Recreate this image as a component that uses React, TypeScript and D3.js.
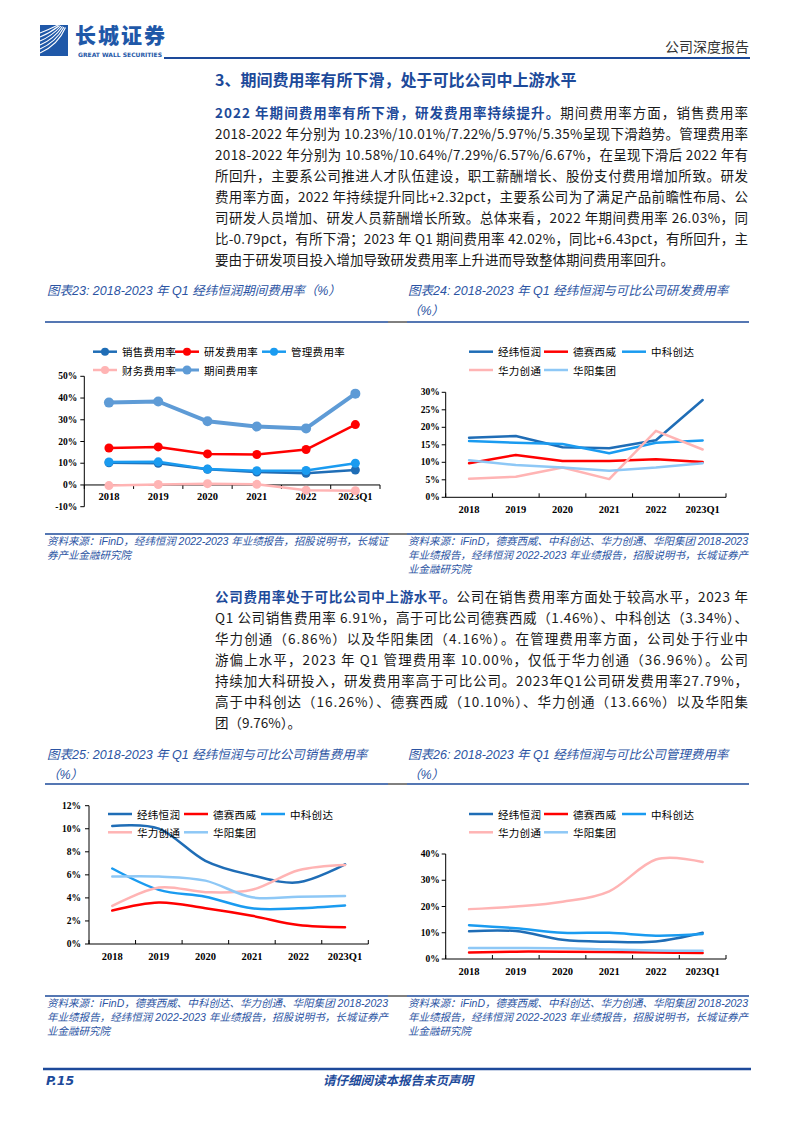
import React from 'react';
import * as d3 from 'd3';

// ---------------- DATA ----------------
const years = ['2018', '2019', '2020', '2021', '2022', '2023Q1'];

// 图表23: 经纬恒润期间费用率 (%)
const salesRate = [10.23, 10.01, 7.22, 5.97, 5.35, 6.91];
const rdRate = [17.0, 17.5, 14.3, 14.0, 16.3, 27.79];
const adminRate = [10.58, 10.64, 7.29, 6.57, 6.67, 10.0];
const financeRate = [-0.3, 0.2, 0.6, 0.3, -2.4, -2.68];
const periodRate = [37.9, 38.4, 29.3, 26.9, 26.03, 42.02];
const ticks23 = [-10, 0, 10, 20, 30, 40, 50];

// 图表24: 研发费用率对比 (%)
const rdDesay = [9.7, 12.1, 10.4, 10.4, 10.9, 10.1];
const rdThundersoft = [16.1, 15.6, 15.2, 12.6, 15.6, 16.26];
const rdHwa = [5.3, 5.9, 8.5, 5.2, 19.0, 13.66];
const rdHuayang = [10.6, 9.2, 8.5, 7.6, 8.5, 9.76];
const ticks24 = [0, 5, 10, 15, 20, 25, 30];

// 图表25: 销售费用率对比 (%)
const salesDesay = [2.9, 3.6, 3.1, 2.45, 1.65, 1.46];
const salesThundersoft = [6.55, 4.7, 4.1, 3.1, 3.1, 3.34];
const salesHwa = [3.3, 4.9, 4.5, 4.7, 6.4, 6.86];
const salesHuayang = [5.85, 5.85, 5.5, 4.05, 4.1, 4.16];
const ticks25 = [0, 2, 4, 6, 8, 10, 12];

// 图表26: 管理费用率对比 (%)
const adminDesay = [2.5, 2.8, 2.8, 2.7, 2.5, 2.3];
const adminThundersoft = [12.9, 11.7, 10.0, 10.0, 8.9, 9.5];
const adminHwa = [19.0, 20.0, 21.8, 25.8, 37.9, 36.96];
const adminHuayang = [4.2, 4.2, 4.1, 3.6, 3.2, 3.1];
const ticks26 = [0, 10, 20, 30, 40];

const seriesNames23 = ['销售费用率', '研发费用率', '管理费用率', '财务费用率', '期间费用率'];
const companies = ['经纬恒润', '德赛西威', '中科创达', '华力创通', '华阳集团'];

// ---------------- STYLE ----------------
const CJK = "'Noto Sans CJK SC', 'Noto Sans', sans-serif";
const ITAL = "'Liberation Sans', 'Noto Sans CJK SC', sans-serif";
const SERIF = "'Liberation Serif', 'DejaVu Serif', serif";
const BLUE = '#1d4a9a';
const TITLE_BLUE = '#2b54a3';
const C_JW = '#1f6db6';
const C_RED = '#ff0000';
const C_ZK = '#1a9bf0';
const C_PINK = '#ffb4b4';
const C_LB = '#8ec8f6';
const C_PERIOD = '#5e9bd6';

interface Series { name: string; values: number[]; color: string; width: number; r?: number }
interface LegendItem { s: number; x: number; y: number }

function LineChart(props: {
  series: Series[];
  xRange: [number, number];
  yDomain: [number, number];
  yRange: [number, number];
  yTicks: number[];
  legend: LegendItem[];
  smooth?: boolean;
  labelGap: number;
  yLabelOff: number;
  tickDir: number;
}) {
  const { series, xRange, yDomain, yRange, yTicks, legend, smooth, labelGap, yLabelOff, tickDir } = props;
  const x = d3.scaleBand<string>().domain(years).range(xRange).padding(0);
  const y = d3.scaleLinear().domain(yDomain).range(yRange);
  const cx = (i: number) => (x(years[i]) as number) + x.bandwidth() / 2;
  const line = d3
    .line<number>()
    .x((_, i) => cx(i))
    .y((v) => y(v))
    .curve(smooth ? d3.curveCardinal.tension(0) : d3.curveLinear);
  const zeroY = y(Math.max(0, yDomain[0]));
  const axX = xRange[0];
  const bounds = [...years.map((d) => x(d) as number), xRange[1]];
  return (
    <g>
      {/* y axis */}
      <line x1={axX} x2={axX} y1={y(yDomain[0])} y2={y(yDomain[1])} stroke="#000" strokeWidth={1} />
      {yTicks.map((t) => (
        <g key={'yt' + t}>
          <line x1={axX - 4} x2={axX} y1={y(t)} y2={y(t)} stroke="#000" strokeWidth={1} />
          <text
            x={axX - yLabelOff}
            y={y(t)}
            textAnchor="end"
            dominantBaseline="central"
            fontFamily={SERIF}
            fontWeight="bold"
            fontSize={9.5}
            fill="#000"
          >
            {(t < 0 ? '-' : '') + Math.abs(t) + '%'}
          </text>
        </g>
      ))}
      {/* x axis */}
      <line x1={xRange[0]} x2={xRange[1]} y1={zeroY} y2={zeroY} stroke="#000" strokeWidth={1} />
      {bounds.map((b, i) => (
        <line key={'xt' + i} x1={b} x2={b} y1={zeroY} y2={zeroY + tickDir * 4} stroke="#000" strokeWidth={1} />
      ))}
      {years.map((d, i) => (
        <text
          key={'xl' + d}
          x={cx(i)}
          y={zeroY + labelGap}
          textAnchor="middle"
          dominantBaseline="central"
          fontFamily={SERIF}
          fontWeight="bold"
          fontSize={10.5}
          fill="#000"
        >
          {d}
        </text>
      ))}
      {/* series */}
      {series.map((s, k) => (
        <g key={'s' + k}>
          <path d={line(s.values) || ''} fill="none" stroke={s.color} strokeWidth={s.width} strokeLinejoin="round" strokeLinecap="round" />
          {s.r
            ? s.values.map((v, i) => <circle key={i} cx={cx(i)} cy={y(v)} r={s.r} fill={s.color} />)
            : null}
        </g>
      ))}
      {/* legend */}
      {legend.map((l, k) => {
        const s = series[l.s];
        return (
          <g key={'lg' + k}>
            <line x1={l.x} x2={l.x + 24} y1={l.y} y2={l.y} stroke={s.color} strokeWidth={Math.min(s.width, 3)} />
            {s.r ? <circle cx={l.x + 12} cy={l.y} r={s.r - 0.5} fill={s.color} /> : null}
            <text
              x={l.x + 29}
              y={l.y}
              dominantBaseline="central"
              fontFamily={CJK}
              fontSize={10.5}
              letterSpacing={0.3}
              fill="#000"
            >
              {s.name}
            </text>
          </g>
        );
      })}
    </g>
  );
}

function ParaLine(props: { y: number; bold?: string; text: string; justify?: boolean }) {
  return (
    <text
      x={215}
      y={props.y}
      fontFamily={CJK}
      fontSize={13.5}
      fill="#1a1a1a"
      textLength={props.justify ? 533 : undefined}
      lengthAdjust="spacing"
    >
      {props.bold ? (
        <tspan fontWeight="bold" fill={BLUE}>
          {props.bold}
        </tspan>
      ) : null}
      <tspan>{props.text}</tspan>
    </text>
  );
}

function ChartTitle(props: { x: number; y: number; lines: string[] }) {
  return (
    <g>
      {props.lines.map((t, i) => (
        <text key={i} x={props.x} y={props.y + i * 20} fontFamily={ITAL} fontStyle="italic" fontSize={12.5} fill={TITLE_BLUE}>
          {t}
        </text>
      ))}
    </g>
  );
}

function Source(props: { x: number; y: number; lines: string[]; width: number }) {
  return (
    <g>
      {props.lines.map((t, i) => (
        <text
          key={i}
          x={props.x}
          y={props.y + i * 14}
          fontFamily={ITAL}
          fontStyle="italic"
          fontSize={10.5}
          fill={TITLE_BLUE}
          textLength={i < props.lines.length - 1 ? props.width : undefined}
          lengthAdjust="spacing"
        >
          {t}
        </text>
      ))}
    </g>
  );
}

const src2 = [
  '资料来源：iFinD，德赛西威、中科创达、华力创通、华阳集团 2018-2023',
  '年业绩报告，经纬恒润 2022-2023 年业绩报告，招股说明书，长城证券产',
  '业金融研究院',
];

export default function App() {
  const s23: Series[] = [
    { name: seriesNames23[0], values: salesRate, color: C_JW, width: 2.5, r: 4.5 },
    { name: seriesNames23[1], values: rdRate, color: C_RED, width: 2.5, r: 4.5 },
    { name: seriesNames23[2], values: adminRate, color: C_ZK, width: 2.5, r: 4.5 },
    { name: seriesNames23[3], values: financeRate, color: C_PINK, width: 2.5, r: 4.5 },
    { name: seriesNames23[4], values: periodRate, color: C_PERIOD, width: 4, r: 5 },
  ];
  const mk = (jw: number[], a: number[], b: number[], c: number[], d: number[]): Series[] => [
    { name: companies[0], values: jw, color: C_JW, width: 2.5 },
    { name: companies[1], values: a, color: C_RED, width: 2.5 },
    { name: companies[2], values: b, color: C_ZK, width: 2.5 },
    { name: companies[3], values: c, color: C_PINK, width: 2.5 },
    { name: companies[4], values: d, color: C_LB, width: 2.5 },
  ];
  const leg2 = (xs: number[], y1: number, y2: number): LegendItem[] => [
    { s: 0, x: xs[0], y: y1 },
    { s: 1, x: xs[1], y: y1 },
    { s: 2, x: xs[2], y: y1 },
    { s: 3, x: xs[0], y: y2 },
    { s: 4, x: xs[1], y: y2 },
  ];

  return (
    <div style={{ position: 'absolute', left: 0, top: 0 }}>
      <svg width={794} height={1123} viewBox="0 0 794 1123" style={{ display: 'block', background: '#fff' }}>
        {/* header */}
        <rect x={40} y={25} width={28} height={31} fill="#1f58a8" />
        {[0, 1, 2, 3, 4, 5].map((i) => (
          <path
            key={i}
            d={`M40,${33 + i * 4} Q${48 + i * 2},${30 + i * 3} ${58 + i * 1.5},${25 + i * 0.5}`}
            fill="none"
            stroke="#fff"
            strokeWidth={1.1}
          />
        ))}
        <text x={75} y={43} fontFamily={CJK} fontWeight={900} fontSize={21} fill="#1f58a8" textLength={90} lengthAdjust="spacing">
          长城证券
        </text>
        <text x={78} y={56.5} fontFamily="'DejaVu Sans', sans-serif" fontWeight="bold" fontSize={6} fill="#1f58a8" textLength={84} lengthAdjust="spacingAndGlyphs">
          GREAT WALL SECURITIES
        </text>
        <text x={749} y={52} textAnchor="end" fontFamily={CJK} fontSize={14} fill="#333">
          公司深度报告
        </text>
        <line x1={164} x2={750} y1={58} y2={58} stroke={BLUE} strokeWidth={2} />

        {/* section title */}
        <text x={215} y={86} fontFamily={CJK} fontWeight="bold" fontSize={16} fill={BLUE}>
          3、期间费用率有所下滑，处于可比公司中上游水平
        </text>

        {/* paragraph 1 */}
        <ParaLine y={118} bold="2022 年期间费用率有所下滑，研发费用率持续提升。" text="期间费用率方面，销售费用率" justify />
        <ParaLine y={139} text="2018-2022 年分别为 10.23%/10.01%/7.22%/5.97%/5.35%呈现下滑趋势。管理费用率" justify />
        <ParaLine y={160} text="2018-2022 年分别为 10.58%/10.64%/7.29%/6.57%/6.67%，在呈现下滑后 2022 年有" justify />
        <ParaLine y={181} text="所回升，主要系公司推进人才队伍建设，职工薪酬增长、股份支付费用增加所致。研发" justify />
        <ParaLine y={202} text="费用率方面，2022 年持续提升同比+2.32pct，主要系公司为了满足产品前瞻性布局、公" justify />
        <ParaLine y={223} text="司研发人员增加、研发人员薪酬增长所致。总体来看，2022 年期间费用率 26.03%，同" justify />
        <ParaLine y={244} text="比-0.79pct，有所下滑；2023 年 Q1 期间费用率 42.02%，同比+6.43pct，有所回升，主" justify />
        <ParaLine y={265} text="要由于研发项目投入增加导致研发费用率上升进而导致整体期间费用率回升。" />

        {/* chart titles row 1 */}
        <ChartTitle x={47} y={295} lines={['图表23:  2018-2023 年 Q1 经纬恒润期间费用率（%）']} />
        <ChartTitle x={408} y={295} lines={['图表24:  2018-2023 年 Q1 经纬恒润与可比公司研发费用率', '（%）']} />
        <line x1={45} x2={388} y1={322} y2={322} stroke={BLUE} strokeWidth={1.5} />
        <line x1={388} x2={407} y1={322} y2={322} stroke="#000" strokeWidth={1} />
        <line x1={407} x2={749} y1={322} y2={322} stroke={BLUE} strokeWidth={1.5} />

        <LineChart
          series={s23}
          xRange={[84.3, 380]}
          yDomain={[-10, 50]}
          yRange={[506.7, 376.3]}
          yTicks={ticks23}
          legend={leg2([93, 175, 262], 351.7, 370)}
          labelGap={12}
          yLabelOff={7}
          tickDir={1}
        />
        <LineChart
          series={mk(rdRate, rdDesay, rdThundersoft, rdHwa, rdHuayang)}
          xRange={[445.7, 726]}
          yDomain={[0, 30]}
          yRange={[497.3, 392.3]}
          yTicks={ticks24}
          legend={leg2([469, 544, 622], 351.7, 370)}
          labelGap={12}
          yLabelOff={6}
          tickDir={-1}
        />

        {/* sources row 1 */}
        <line x1={45} x2={388} y1={534} y2={534} stroke={BLUE} strokeWidth={1.5} />
        <line x1={388} x2={407} y1={534} y2={534} stroke="#000" strokeWidth={1} />
        <line x1={407} x2={749} y1={534} y2={534} stroke={BLUE} strokeWidth={1.5} />
        <Source x={47} y={545} width={341} lines={['资料来源：iFinD，经纬恒润 2022-2023 年业绩报告，招股说明书，长城证', '券产业金融研究院']} />
        <Source x={408} y={545} width={340} lines={src2} />

        {/* paragraph 2 */}
        <ParaLine y={602} bold="公司费用率处于可比公司中上游水平。" text="公司在销售费用率方面处于较高水平，2023 年" justify />
        <ParaLine y={623} text="Q1 公司销售费用率 6.91%，高于可比公司德赛西威（1.46%）、中科创达（3.34%）、" justify />
        <ParaLine y={644} text="华力创通（6.86%）以及华阳集团（4.16%）。在管理费用率方面，公司处于行业中" justify />
        <ParaLine y={665} text="游偏上水平，2023 年 Q1 管理费用率 10.00%，仅低于华力创通（36.96%）。公司" justify />
        <ParaLine y={686} text="持续加大科研投入，研发费用率高于可比公司。2023年Q1公司研发费用率27.79%，" justify />
        <ParaLine y={707} text="高于中科创达（16.26%）、德赛西威（10.10%）、华力创通（13.66%）以及华阳集" justify />
        <ParaLine y={728} text="团（9.76%）。" />

        {/* chart titles row 2 */}
        <ChartTitle x={47} y={759} lines={['图表25:  2018-2023 年 Q1 经纬恒润与可比公司销售费用率', '（%）']} />
        <ChartTitle x={408} y={759} lines={['图表26:  2018-2023 年 Q1 经纬恒润与可比公司管理费用率', '（%）']} />
        <line x1={45} x2={388} y1={784} y2={784} stroke={BLUE} strokeWidth={1.5} />
        <line x1={388} x2={407} y1={784} y2={784} stroke="#000" strokeWidth={1} />
        <line x1={407} x2={749} y1={784} y2={784} stroke={BLUE} strokeWidth={1.5} />

        <LineChart
          series={mk(salesRate, salesDesay, salesThundersoft, salesHwa, salesHuayang)}
          xRange={[89, 368.3]}
          yDomain={[0, 12]}
          yRange={[944, 805.7]}
          yTicks={ticks25}
          legend={leg2([108, 184, 261], 814, 832.3)}
          smooth
          labelGap={12.5}
          yLabelOff={8}
          tickDir={-1}
        />
        <LineChart
          series={mk(adminRate, adminDesay, adminThundersoft, adminHwa, adminHuayang)}
          xRange={[445.7, 726]}
          yDomain={[0, 40]}
          yRange={[959, 854]}
          yTicks={ticks26}
          legend={leg2([469, 544, 622], 814, 832.3)}
          smooth
          labelGap={12}
          yLabelOff={6}
          tickDir={-1}
        />

        {/* sources row 2 */}
        <line x1={45} x2={388} y1={996} y2={996} stroke={BLUE} strokeWidth={1.5} />
        <line x1={388} x2={407} y1={996} y2={996} stroke="#000" strokeWidth={1} />
        <line x1={407} x2={749} y1={996} y2={996} stroke={BLUE} strokeWidth={1.5} />
        <Source x={47} y={1007} width={341} lines={src2} />
        <Source x={408} y={1007} width={340} lines={src2} />

        {/* footer */}
        <line x1={43} x2={751} y1={1069} y2={1069} stroke={BLUE} strokeWidth={2.5} />
        <text x={46} y={1085} fontFamily="'DejaVu Sans', sans-serif" fontWeight="bold" fontStyle="italic" fontSize={12.5} fill={BLUE}>
          P.15
        </text>
        <text x={398} y={1085} textAnchor="middle" fontFamily={CJK} fontWeight="bold" fontStyle="italic" fontSize={12.5} fill={BLUE}>
          请仔细阅读本报告末页声明
        </text>
      </svg>
    </div>
  );
}
